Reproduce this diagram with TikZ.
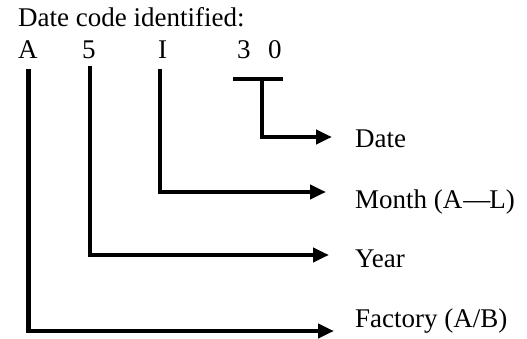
\documentclass[tikz,border=0pt]{standalone}
\usepackage{fontspec}
\setmainfont{Liberation Serif}
\usetikzlibrary{arrows.meta}
\begin{document}
\begin{tikzpicture}[x=1pt,y=-1pt,
  txt/.style={anchor=base west,inner sep=0pt,font=\fontsize{27}{32}\selectfont},
  conn/.style={line width=4.3pt},
  arr/.style={conn,-{Triangle[length=16pt,width=14pt]}}]
\useasboundingbox (0,0) rectangle (527,339);
\node[txt] (title) at (18,27) {Date code identified:};
\node[txt] (cA) at (18,59) {A};
\node[txt] (c5) at (82,59) {5};
\node[txt] (cI) at (158,59) {I};
\node[txt] (c3) at (237,59) {3};
\node[txt] (c0) at (268,59) {0};
\node[txt] (lD) at (355,148) {Date};
\node[txt] (lM) at (355,208) {Month (A\kern1pt—\kern-1pt L)};
\node[txt] (lY) at (355,267) {Year};
\node[txt] (lF) at (355,327) {Factory (A/B)};
\coordinate (tA) at (28.5,69);
\coordinate (t5) at (90,66);
\coordinate (tI) at (160,69);
\coordinate (bl) at (233,79);
\coordinate (br) at (283,79);
\coordinate (tD) at (262,81);
\coordinate (eD) at (332,137);
\coordinate (eM) at (326,192);
\coordinate (eY) at (329,255);
\coordinate (eF) at (334,331);
\draw[conn] (bl) -- (br);
\draw[arr] (tD) |- (eD);
\draw[arr] (tI) |- (eM);
\draw[arr] (t5) |- (eY);
\draw[arr] (tA) |- (eF);
\end{tikzpicture}
\end{document}
